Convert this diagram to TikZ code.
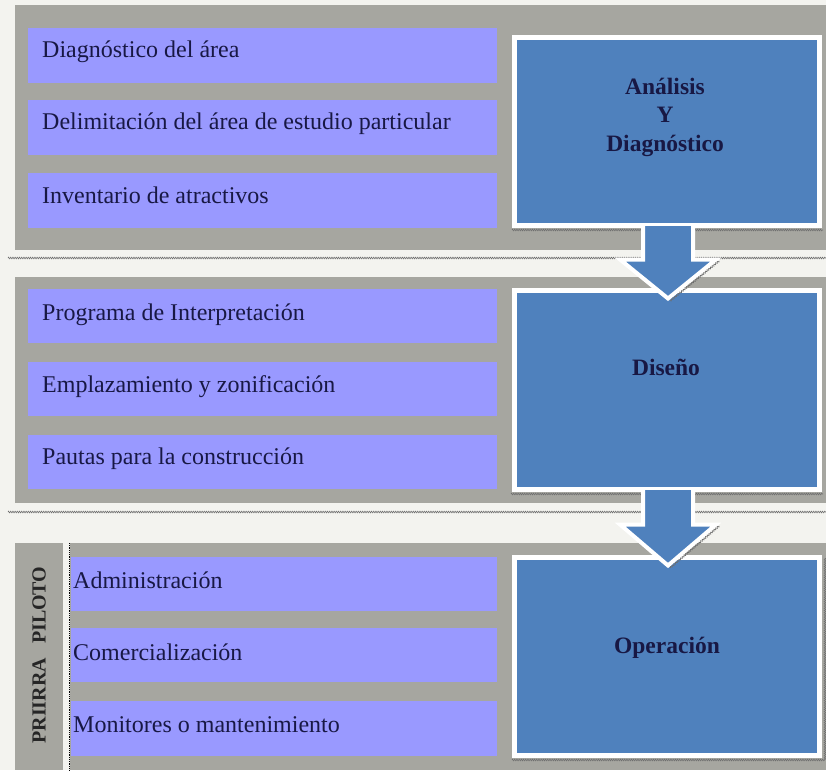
\documentclass[tikz,border=0pt]{standalone}
\usepackage{fontspec}
\setmainfont{Liberation Serif}
\usetikzlibrary{decorations.pathmorphing,calc}
\definecolor{bgc}{RGB}{243,243,239}
\definecolor{panelgray}{RGB}{166,166,160}
\definecolor{itempurple}{RGB}{153,153,255}
\definecolor{stageblue}{RGB}{79,129,189}
\definecolor{textnavy}{RGB}{24,24,68}
\definecolor{sepgray}{RGB}{110,110,110}
\begin{document}
\begin{tikzpicture}[x=1pt,y=-1pt,
  panel/.style={fill=panelgray,draw=none},
  itembox/.style={fill=itempurple,draw=none,anchor=north west,minimum height=55pt,inner sep=0pt},
  itemtext/.style={anchor=base west,font=\fontsize{24}{28}\selectfont,text=textnavy,inner sep=0pt},
  stage/.style={fill=stageblue,draw=white,line width=5pt,minimum width=305pt,inner sep=0pt},
  stagetext/.style={font=\fontsize{23.5}{28.5}\selectfont\bfseries,text=textnavy,align=center,inner sep=0pt},
  sepline/.style={draw=sepgray,line width=0.6pt,decorate,decoration={zigzag,amplitude=0.8pt,segment length=2.2pt}},
  arrowfill/.style={fill=stageblue,draw=none},
  arrowedge/.style={draw=white,line width=4pt,line join=miter}
]
\useasboundingbox (0,0) rectangle (826,770);
\fill[bgc] (0,0) rectangle (826,770);

% panels
\fill[panel] (15,5) rectangle (826,250);
\fill[panel] (15,277) rectangle (826,503);
\fill[panel] (15,543) rectangle (63,770);
\fill[panel] (70,543) rectangle (826,770);
\draw[black,densely dotted,line width=0.8pt] (69,543) -- (69,770);

% panel 1 items
\node[itembox,minimum width=469pt] (p1a) at (28,28) {};
\node[itembox,minimum width=469pt] (p1b) at (28,100) {};
\node[itembox,minimum width=469pt] (p1c) at (28,173) {};
\node[itemtext] (t1a) at ($(p1a.north west)+(14,30)$) {Diagnóstico del área};
\node[itemtext] (t1b) at ($(p1b.north west)+(14,30)$) {Delimitación del área de estudio particular};
\node[itemtext] (t1c) at ($(p1c.north west)+(14,30)$) {Inventario de atractivos};

% panel 2 items
\node[itembox,minimum width=469pt,minimum height=54pt] (p2a) at (28,289) {};
\node[itembox,minimum width=469pt,minimum height=54pt] (p2b) at (28,362) {};
\node[itembox,minimum width=469pt,minimum height=54pt] (p2c) at (28,435) {};
\node[itemtext] (t2a) at ($(p2a.north west)+(14,31)$) {Programa de Interpretación};
\node[itemtext] (t2b) at ($(p2b.north west)+(14,30)$) {Emplazamiento y zonificación};
\node[itemtext] (t2c) at ($(p2c.north west)+(14,29)$) {Pautas para la construcción};

% panel 3 items
\node[itembox,minimum width=426pt,minimum height=54pt] (p3a) at (71,557) {};
\node[itembox,minimum width=426pt,minimum height=54pt] (p3b) at (71,628) {};
\node[itembox,minimum width=426pt,minimum height=55pt] (p3c) at (71,701) {};
\node[itemtext] (t3a) at ($(p3a.north west)+(2,31)$) {Administración};
\node[itemtext] (t3b) at ($(p3b.north west)+(2,32)$) {Comercialización};
\node[itemtext] (t3c) at ($(p3c.north west)+(2,31)$) {Monitores o mantenimiento};

\node[rotate=90,font=\fontsize{20}{24}\selectfont\bfseries,text=black!85,inner sep=0pt] (lbl) at (39,655) {PRIIRRA\hspace{14pt}PILOTO};

% separators and shadows
\draw[sepline] (8,258) -- (826,258);
\draw[sepline] (8,512) -- (826,512);
\draw[sepline] (512,230) -- (823,230);
\draw[sepline] (511,494) -- (823,494);
\draw[sepline] (512,760) -- (825,760) -- (825,558);

% stage boxes
\node[stage,minimum height=188pt] (s1) at (667,131.5) {};
\node[stage,minimum height=199pt] (s2) at (667,390) {};
\node[stage,minimum height=198pt] (s3) at (667,656.5) {};
\node[stagetext,anchor=center] (s1t) at (665,117) {Análisis\\Y\\Diagnóstico};
\node[stagetext,anchor=base] (s2t) at (666,375) {Diseño};
\node[stagetext,anchor=base] (s3t) at (667,653) {Operación};

% block arrow s1 -> s2
\fill[arrowfill] ($(s1.south)+(-24,-2)$) -- ($(s1.south)+(-24,31.5)$) -- ($(s1.south)+(-47,31.5)$)
  -- ($(s2.north)+(1,10.5)$) -- ($(s1.south)+(49,31.5)$) -- ($(s1.south)+(26,31.5)$) -- ($(s1.south)+(26,-2)$) -- cycle;
\draw[arrowedge] ($(s1.south)+(-24,-2)$) -- ($(s1.south)+(-24,31.5)$) -- ($(s1.south)+(-47,31.5)$)
  -- ($(s2.north)+(1,10.5)$) -- ($(s1.south)+(49,31.5)$) -- ($(s1.south)+(26,31.5)$) -- ($(s1.south)+(26,-2)$);
\draw[sepline] ($(s1.south)+(52,33)$) -- ($(s2.north)+(3,13)$);

% block arrow s2 -> s3
\fill[arrowfill] ($(s2.south)+(-24,-2)$) -- ($(s2.south)+(-24,32.5)$) -- ($(s2.south)+(-47,32.5)$)
  -- ($(s3.north)+(1,10.5)$) -- ($(s2.south)+(49,32.5)$) -- ($(s2.south)+(26,32.5)$) -- ($(s2.south)+(26,-2)$) -- cycle;
\draw[arrowedge] ($(s2.south)+(-24,-2)$) -- ($(s2.south)+(-24,32.5)$) -- ($(s2.south)+(-47,32.5)$)
  -- ($(s3.north)+(1,10.5)$) -- ($(s2.south)+(49,32.5)$) -- ($(s2.south)+(26,32.5)$) -- ($(s2.south)+(26,-2)$);
\draw[sepline] ($(s2.south)+(52,34)$) -- ($(s3.north)+(3,13)$);
\end{tikzpicture}
\end{document}
